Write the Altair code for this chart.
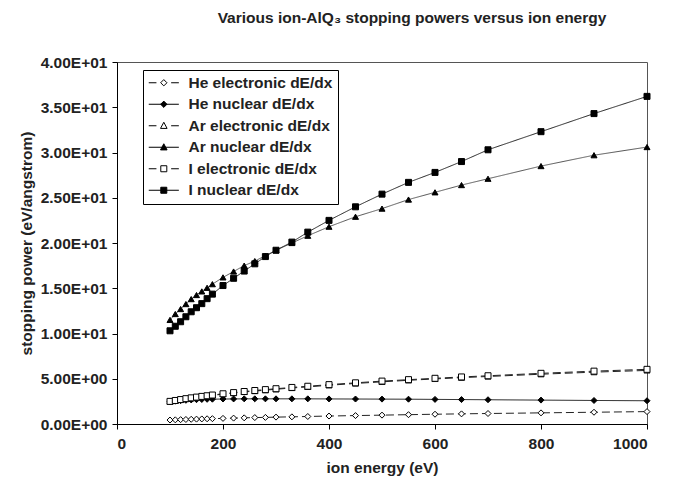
import altair as alt
import pandas as pd

energy = [100, 110, 120, 130, 140, 150, 160, 170, 180, 200, 220, 240, 260, 280, 300,
          330, 360, 400, 450, 500, 550, 600, 650, 700, 800, 900, 1000]

he_elec = [0.44, 0.46, 0.48, 0.50, 0.52, 0.54, 0.56, 0.575, 0.59, 0.62, 0.65, 0.68, 0.71, 0.73,
           0.76, 0.79, 0.83, 0.88, 0.93, 0.98, 1.03, 1.08, 1.12, 1.16, 1.23, 1.30, 1.37]
he_nuc = [2.45, 2.52, 2.58, 2.62, 2.66, 2.69, 2.71, 2.73, 2.74, 2.76, 2.77, 2.78, 2.78, 2.78,
          2.78, 2.78, 2.78, 2.77, 2.76, 2.75, 2.74, 2.72, 2.70, 2.68, 2.64, 2.60, 2.57]
ar_elec = [2.48, 2.58, 2.68, 2.77, 2.86, 2.94, 3.02, 3.09, 3.16, 3.30, 3.42, 3.54, 3.64, 3.74,
           3.84, 3.98, 4.10, 4.28, 4.48, 4.66, 4.83, 4.98, 5.12, 5.25, 5.50, 5.73, 5.92]
ar_nuc = [11.5, 12.15, 12.7, 13.25, 13.8, 14.25, 14.65, 15.05, 15.45, 16.2, 16.85, 17.5, 18.0,
          18.6, 19.2, 20.0, 20.8, 21.8, 22.9, 23.8, 24.8, 25.6, 26.4, 27.1, 28.5, 29.7, 30.6]
i_elec = [2.50, 2.60, 2.70, 2.80, 2.89, 2.97, 3.05, 3.12, 3.20, 3.34, 3.47, 3.59, 3.70, 3.80,
          3.90, 4.04, 4.17, 4.35, 4.55, 4.74, 4.90, 5.05, 5.20, 5.33, 5.60, 5.84, 6.04]
i_nuc = [10.3, 10.8, 11.3, 11.85, 12.4, 12.85, 13.3, 13.85, 14.35, 15.3, 16.1, 16.9, 17.7,
         18.5, 19.2, 20.1, 21.2, 22.5, 24.0, 25.4, 26.7, 27.8, 29.0, 30.3, 32.3, 34.3, 36.2]

series_names = ["He electronic dE/dx", "He nuclear dE/dx", "Ar electronic dE/dx",
                "Ar nuclear dE/dx", "I electronic dE/dx", "I nuclear dE/dx"]
series_values = [he_elec, he_nuc, ar_elec, ar_nuc, i_elec, i_nuc]

x_ticks = [0, 200, 400, 600, 800, 1000]
y_ticks = [0, 5, 10, 15, 20, 25, 30, 35, 40]

rows = []
for name, vals in zip(series_names, series_values):
    for e, v in zip(energy, vals):
        rows.append({"series": name, "energy": e, "value": v})
df = pd.DataFrame(rows)

FONT = "Liberation Sans"
FS = 15.5

# styles
shapes = ["diamond", "diamond", "triangle-up", "triangle-up", "square", "square"]
fills = ["white", "black", "white", "black", "white", "black"]
strokes = ["black"] * 6
line_colors = ["#222", "#222", "#222", "#555", "#222", "#222"]
dashes = [[8, 4], [1, 0], [8, 4], [1, 0], [8, 4], [1, 0]]
sizes = [36, 36, 55, 55, 55, 55]

# legend symbols: line segment(s) plus marker (unit = 7px, centre at 7px)
dash_l = "M-1,0H0.1M2.2,0H3.3"
solid_l = "M-1,0H3.3"
diam = "M1.15,-0.45L1.6,0L1.15,0.45L0.7,0Z"
tri = "M1.15,-0.5L1.62,0.38L0.68,0.38Z"
sq = "M0.72,-0.43H1.58V0.43H0.72Z"
legend_paths = [dash_l + diam, solid_l + diam, dash_l + tri, solid_l + tri,
                dash_l + sq, solid_l + sq]

x_enc = alt.X("energy:Q", scale=alt.Scale(domain=[0, 1000], nice=False),
              axis=alt.Axis(title="ion energy (eV)", values=x_ticks, format="d",
                            grid=False, tickSize=5, labelPadding=7, titlePadding=9))
y_enc = alt.Y("value:Q", scale=alt.Scale(domain=[0, 40], nice=False),
              axis=alt.Axis(title="stopping power (eV/angstrom)", values=y_ticks, grid=False,
                            tickSize=5, labelPadding=5, titlePadding=6,
                            labelExpr="upper(replace(format(datum.value, '.2e'), 'e+', 'e+0'))"))

base = alt.Chart(df)

lines = base.mark_line(strokeWidth=1).encode(
    x=x_enc, y=y_enc,
    color=alt.Color("series:N", scale=alt.Scale(domain=series_names, range=line_colors),
                    legend=None),
    strokeDash=alt.StrokeDash("series:N", scale=alt.Scale(domain=series_names, range=dashes),
                              legend=None),
)

points = base.mark_point(stroke="black", strokeWidth=1, opacity=1).encode(
    x=x_enc, y=y_enc,
    shape=alt.Shape("series:N", scale=alt.Scale(domain=series_names, range=shapes), legend=None),
    fill=alt.Fill("series:N", scale=alt.Scale(domain=series_names, range=fills), legend=None),
    size=alt.Size("series:N", scale=alt.Scale(domain=series_names, range=sizes), legend=None),
)

legend_layer = base.mark_point(opacity=0, strokeWidth=1).encode(
    x=x_enc, y=y_enc,
    shape=alt.Shape("series:N", scale=alt.Scale(domain=series_names, range=legend_paths),
                    legend=alt.Legend(title=None, orient="none", legendX=26, legendY=8,
                                      symbolSize=196, symbolStrokeWidth=1, symbolOpacity=1,
                                      labelOffset=25, rowPadding=4.5, padding=5,
                                      labelFont=FONT, labelFontSize=FS, labelFontWeight="bold",
                                      labelColor="#222", labelLimit=300,
                                      strokeColor="black", fillColor="white")),
    fill=alt.Fill("series:N", scale=alt.Scale(domain=series_names, range=fills)),
    stroke=alt.Stroke("series:N", scale=alt.Scale(domain=series_names, range=strokes)),
)

chart = alt.layer(lines, points, legend_layer).resolve_scale(
    shape="independent", fill="independent", size="independent",
    strokeDash="independent", color="independent", stroke="independent"
).properties(
    width=530, height=362,
    autosize=alt.AutoSizeParams(type="none"),
    padding={"left": 109, "top": 54, "right": 23, "bottom": 53},
    title=alt.TitleParams("Various ion-AlQ₃ stopping powers versus ion energy",
                          font=FONT, fontSize=FS, fontWeight="bold", color="#222",
                          dx=30, offset=29),
).configure_view(
    stroke="#555", strokeWidth=1
).configure_axis(
    labelFont=FONT, labelFontSize=FS, labelFontWeight="bold", labelColor="#222",
    titleFont=FONT, titleFontSize=FS, titleFontWeight="bold", titleColor="#222",
    domainColor="black", tickColor="black", domainWidth=1
)

chart.save("out.html", embed_options={"renderer": "svg", "actions": False})
